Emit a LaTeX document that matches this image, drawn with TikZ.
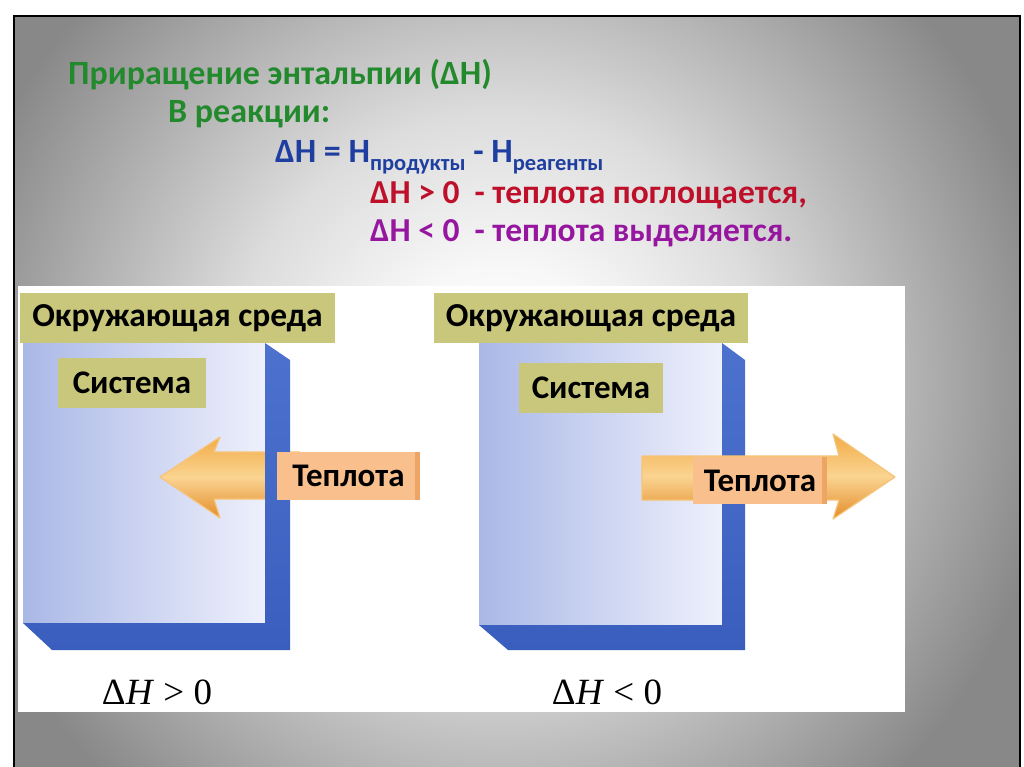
\documentclass[tikz,border=0pt]{standalone}
\usepackage{fontspec}
\setmainfont{Carlito}
\newfontfamily\timesfont{Liberation Serif}
\definecolor{bgout}{RGB}{136,136,136}
\definecolor{bgA}{RGB}{248,248,248}
\definecolor{bgmid}{RGB}{220,220,220}
\definecolor{cgreen}{RGB}{34,138,44}
\definecolor{cblue}{RGB}{30,62,160}
\definecolor{cred}{RGB}{190,16,42}
\definecolor{cpurple}{RGB}{150,22,160}
\definecolor{olive}{RGB}{201,199,124}
\definecolor{peach}{RGB}{249,192,142}
\definecolor{peachd}{RGB}{238,165,100}
\definecolor{faceL}{RGB}{170,184,230}
\definecolor{faceR}{RGB}{238,240,252}
\definecolor{sideT}{RGB}{76,114,206}
\definecolor{sideB}{RGB}{58,94,190}
\definecolor{arT}{RGB}{242,172,72}
\definecolor{arM}{RGB}{250,212,145}
\definecolor{arB}{RGB}{228,140,42}
\definecolor{arE}{RGB}{246,196,120}
\pgfdeclareradialshading{bgshade}{\pgfpoint{0bp}{0bp}}{color(0bp)=(white); color(5bp)=(bgA); color(12bp)=(bgmid); color(25bp)=(bgout); color(50bp)=(bgout)}
\tikzset{
  envbox/.style={fill=olive, inner sep=0pt, minimum width=315pt, minimum height=50pt,
    font=\fontsize{33.5}{36}\selectfont\bfseries, text=black},
  sysbox/.style={fill=olive, inner sep=0pt, minimum width=148pt, minimum height=50pt,
    font=\fontsize{33}{36}\selectfont\bfseries, text=black},
  heatbox/.style={fill=peach, inner sep=0pt,
    minimum width=140pt, minimum height=47pt, font=\fontsize{33}{36}\selectfont\bfseries, text=black,
    path picture={\fill[peachd] ([xshift=-5pt]path picture bounding box.north east) rectangle (path picture bounding box.south east);}},
  face/.style={left color=faceL, right color=faceR},
  side/.style={top color=sideT, bottom color=sideB},
  blockarrow/.style={top color=arT, bottom color=arB, middle color=arM, draw=arE, line width=1.2pt, line join=round},
  hline/.style={anchor=base west, inner sep=0pt, font=\fontsize{34}{38}\selectfont\bfseries},
  sline/.style={anchor=base west, inner sep=0pt, font=\fontsize{33.5}{36}\selectfont\bfseries},
  dh/.style={inner sep=0pt, font=\fontsize{37}{40}\selectfont\timesfont}
}
\begin{document}
\begin{tikzpicture}[x=1pt,y=-1pt]
\useasboundingbox (0,0) rectangle (1024,767);
\fill[white] (0,0) rectangle (1024,767);
\begin{scope}
  \clip (14,16) rectangle (1020,767);
  \fill[bgout] (14,16) rectangle (1020,767);
  \shade[shading=bgshade] (500,380) ellipse [x radius=560, y radius=560];
\end{scope}
\draw[black, line width=1.6pt] (14,767) -- (14,16) -- (1020,16) -- (1020,767);

% title texts
\node[hline, text=cgreen] (t1) at (68,85) {Приращение энтальпии (ΔH)};
\node[hline, text=cgreen] (t2) at (168,123) {В реакции:};
\node[hline, text=cblue] (t3) at (275,163) {ΔH = H\raisebox{-8pt}{\fontsize{22.5}{23}\selectfont продукты} - H\raisebox{-8pt}{\fontsize{22.5}{23}\selectfont реагенты}};
\node[sline, text=cred] (t4) at (370,204) {ΔH > 0\ \ - теплота поглощается,};
\node[sline, text=cpurple] (t5) at (370,241) {ΔH < 0\ \ - теплота выделяется.};

% white panel
\fill[white] (18,286) rectangle (905,712);

% ---------- left diagram ----------
\shade[face] (23,343) rectangle (265,623);
\draw[blockarrow] (160,477) -- (220,437) -- (214,452) -- (300,452) -- (300,499) -- (214,499) -- (220,518) -- cycle;
\shade[side] (265,343) -- (290,360) -- (290,650) -- (52,650) -- (23,623) -- (265,623) -- cycle;
\node[envbox] (envL) at (177.5,318) {Окружающая среда};
\node[sysbox] (sysL) at (132,383) {Система};
\node[heatbox, minimum width=143pt, minimum height=48pt] (heatL) at (348.5,476) {Теплота};
\node[dh] (dhL) at (157,692) {Δ\textit{H} > 0};

% ---------- right diagram ----------
\shade[face] (479,343) rectangle (722,625);
\shade[side] (722,343) -- (745,360) -- (745,650) -- (508,650) -- (479,625) -- (722,625) -- cycle;
\draw[blockarrow] (642,456) -- (839,456) -- (833,434) -- (895,477) -- (833,519) -- (839,500) -- (642,500) -- cycle;
\node[envbox, minimum width=314pt] (envR) at (591,318) {Окружающая среда};
\node[sysbox, minimum width=144pt] (sysR) at (591,388) {Система};
\node[heatbox, minimum width=134pt, minimum height=47pt] (heatR) at (760,480.5) {Теплота};
\node[dh] (dhR) at (607,692) {Δ\textit{H} < 0};
\end{tikzpicture}
\end{document}
